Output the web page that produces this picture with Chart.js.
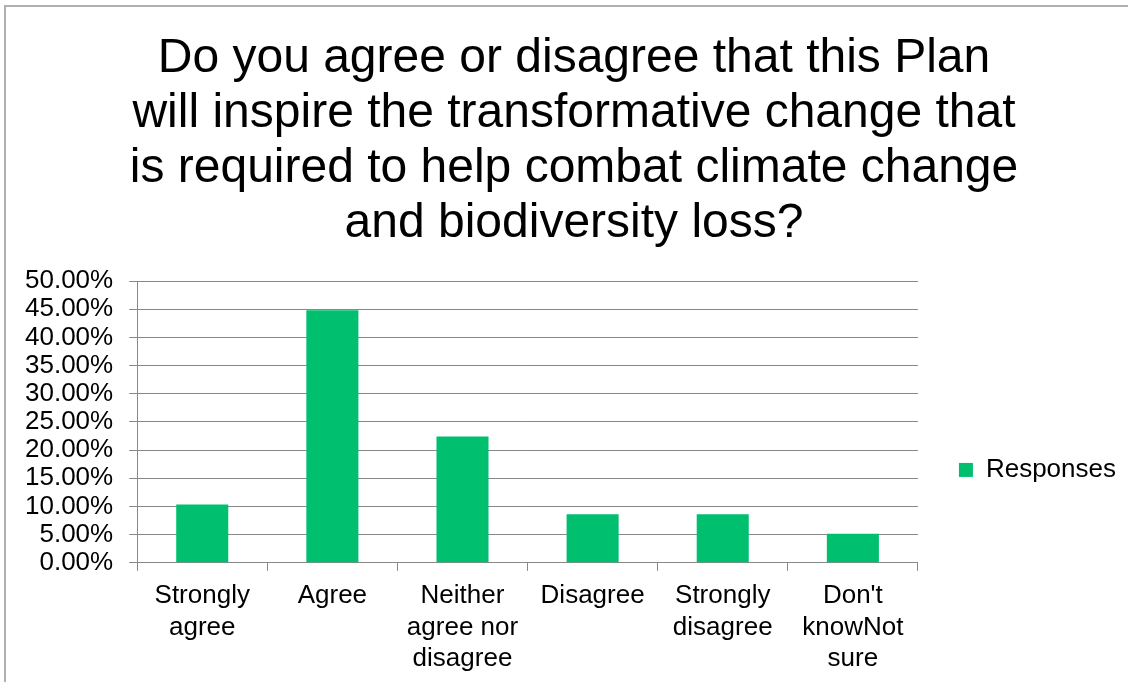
<!DOCTYPE html>
<html>
<head>
<meta charset="utf-8">
<script src="https://cdn.jsdelivr.net/npm/chart.js@4/dist/chart.umd.min.js"></script>
<style>
  html, body { margin: 0; padding: 0; background: #fff; }
  #wrap { width: 1128px; height: 682px; position: relative; }
</style>
</head>
<body>
<div id="wrap"><canvas id="c" width="1128" height="682"></canvas></div>
<script>
// Survey question and answer categories
const titleLines = [
  'Do you agree or disagree that this Plan',
  'will inspire the transformative change that',
  'is required to help combat climate change',
  'and biodiversity loss?'
];
const categories = [
  ['Strongly', 'agree'],
  ['Agree'],
  ['Neither', 'agree nor', 'disagree'],
  ['Disagree'],
  ['Strongly', 'disagree'],
  ["Don't", 'knowNot', 'sure']
];
// Share of responses, in percent
const responses = [10.34, 44.83, 22.41, 8.62, 8.62, 5.17];
const seriesName = 'Responses';
const yMax = 50;
const yStep = 5;

const FONT = '"Liberation Sans", Arial, sans-serif';
const GREEN = '#00BF6F';
const GRID = '#888888';

// White background with a light frame on the left and top edges
const framePlugin = {
  id: 'frame',
  beforeDraw(chart) {
    const ctx = chart.ctx;
    ctx.save();
    ctx.fillStyle = '#ffffff';
    ctx.fillRect(0, 0, chart.width, chart.height);
    ctx.strokeStyle = '#b0b0b0';
    ctx.lineWidth = 2;
    ctx.beginPath();
    ctx.moveTo(5, chart.height);
    ctx.lineTo(5, 6);
    ctx.lineTo(chart.width, 6);
    ctx.stroke();
    ctx.restore();
  }
};

// Centre the title over the whole canvas and set the legend a little away
// from the plot, around the plot's lower middle
const blockPlacer = {
  id: 'blockPlacer',
  beforeDraw(chart) {
    const tb = chart.titleBlock;
    if (tb) {
      const tw = tb.right - tb.left;
      tb.left = (chart.width + 20) / 2 - tw / 2;
      tb.right = tb.left + tw;
    }
    const lg = chart.legend;
    if (lg) {
      const w = lg.right - lg.left;
      lg.left = chart.chartArea.right + 31;
      lg.right = lg.left + w;
      const mid = (chart.chartArea.top + chart.chartArea.bottom) / 2 + 48;
      lg.top = mid - 100;
      lg.bottom = mid + 100;
    }
  }
};

new Chart(document.getElementById('c'), {
  type: 'bar',
  data: {
    labels: categories,
    datasets: [{
      label: seriesName,
      data: responses,
      backgroundColor: GREEN,
      borderWidth: 0,
      categoryPercentage: 1.0,
      barPercentage: 0.4
    }]
  },
  options: {
    responsive: false,
    animation: false,
    devicePixelRatio: 1,
    layout: { padding: { top: 31, right: 33, bottom: -2, left: 9 } },
    plugins: {
      title: {
        display: true,
        text: titleLines,
        color: '#000',
        font: { family: FONT, size: 48, weight: 'normal', lineHeight: 1.146 },
        padding: { top: 0, bottom: 30 }
      },
      legend: {
        display: true,
        position: 'right',
        labels: {
          color: '#000',
          font: { family: FONT, size: 26 },
          boxWidth: 14,
          boxHeight: 14,
          padding: 10
        }
      },
      tooltip: { enabled: false }
    },
    scales: {
      x: {
        offset: true,
        grid: {
          offset: true,
          drawOnChartArea: false,
          drawTicks: true,
          tickLength: 8,
          color: GRID
        },
        border: { color: GRID, width: 1 },
        ticks: {
          color: '#000',
          font: { family: FONT, size: 26, lineHeight: 1.22 },
          padding: 9,
          maxRotation: 0,
          autoSkip: false
        }
      },
      y: {
        min: 0,
        max: yMax,
        grid: { color: GRID, lineWidth: 1, tickLength: 8 },
        border: { color: GRID, width: 1 },
        ticks: {
          stepSize: yStep,
          autoSkip: false,
          color: '#000',
          font: { family: FONT, size: 26 },
          padding: 16,
          callback: v => v.toFixed(2) + '%'
        }
      }
    }
  },
  plugins: [framePlugin, blockPlacer]
});
</script>
</body>
</html>
